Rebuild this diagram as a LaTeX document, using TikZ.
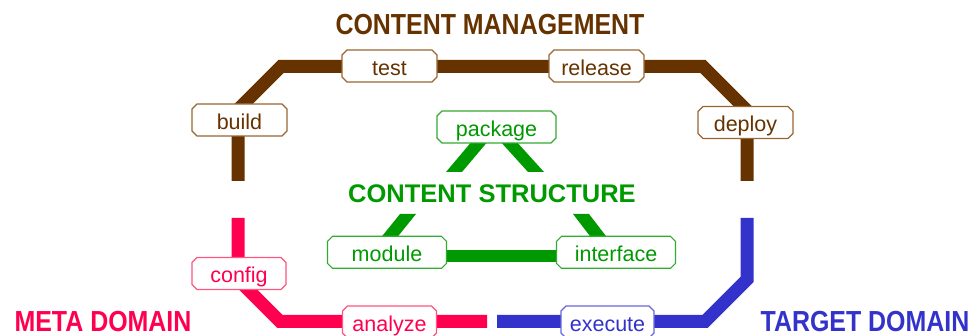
\documentclass[tikz,border=0pt]{standalone}
\usepackage{fontspec}
\setmainfont{Liberation Sans}
\usetikzlibrary{shapes.misc,backgrounds}
\definecolor{cmbrown}{HTML}{663300}
\definecolor{cmbrownl}{HTML}{996633}
\definecolor{csgreen}{HTML}{009900}
\definecolor{csgreenl}{HTML}{33AA33}
\definecolor{mdpink}{HTML}{FF0050}
\definecolor{mdpinkl}{HTML}{FF5580}
\definecolor{tdblue}{HTML}{3333CC}
\definecolor{tdbluel}{HTML}{6666DD}
\tikzset{
  lbl/.style={chamfered rectangle, chamfered rectangle xsep=2.5pt,
    chamfered rectangle ysep=2.5pt, fill=white, line width=1.1pt,
    inner sep=0pt, minimum width=95pt, minimum height=32pt,
    text height=19pt, text depth=0pt, font=\fontsize{21.5}{21.5}\selectfont},
  brbox/.style={lbl, draw=cmbrownl, text=cmbrown},
  grbox/.style={lbl, draw=csgreenl, text=csgreen, minimum width=119pt},
  pkbox/.style={lbl, draw=mdpinkl, text=mdpink, minimum width=94pt},
  blbox/.style={lbl, draw=tdbluel, text=tdblue, minimum width=93pt},
  ttl/.style={inner sep=0pt, anchor=base, font=\fontsize{29}{29}\selectfont\bfseries},
  sttl/.style={inner sep=0pt, anchor=base, font=\fontsize{25.5}{25.5}\selectfont\bfseries},
  track/.style={line width=13pt, line cap=butt, line join=miter},
}
\begin{document}
\begin{tikzpicture}[x=1pt,y=-1pt]
\useasboundingbox (0,0) rectangle (974,336);
% titles
\node[ttl, text=cmbrown] (cmt) at (490,35) {\scalebox{0.86}[1]{CONTENT MANAGEMENT}};
\node[sttl, text=csgreen] (cst) at (492,203) {CONTENT STRUCTURE};
\node[ttl, text=mdpink] (mdt) at (103,331.5) {\scalebox{0.86}[1]{META DOMAIN}};
\node[ttl, text=tdblue] (tdt) at (865,331.5) {\scalebox{0.86}[1]{TARGET DOMAIN}};
% boxes
\node[brbox] (build) at (239.5,120) {build};
\node[brbox] (test) at (389.5,66) {test};
\node[brbox] (release) at (596.5,66) {release};
\node[brbox] (deploy) at (745.5,122.5) {deploy};
\node[grbox] (package) at (496.5,127) {package};
\node[grbox] (module) at (387,252.3) {module};
\node[grbox] (interface) at (616,252.3) {interface};
\node[pkbox] (config) at (239,273.5) {config};
\node[pkbox] (analyze) at (389.5,322) {analyze};
\node[blbox] (execute) at (607.5,322) {execute};
% track ends
\coordinate (bA) at (238,181);
\coordinate (bB) at (747,181);
\coordinate (pA) at (238,218);
\coordinate (pB) at (487,321.5);
\coordinate (uA) at (497,321.5);
\coordinate (uB) at (747,218);
\begin{pgfonlayer}{background}
\draw[track, cmbrown] (bA) -- (238,109.5) -- (281,66.5) -- (703,66.5) -- (747,110.5) -- (bB);
\draw[track, mdpink] (pA) -- (238,279.5) -- (280,321.5) -- (pB);
\draw[track, tdblue] (uA) -- (705,321.5) -- (747,279.5) -- (uB);
\draw[csgreen, line width=12pt] ([yshift=-4pt]module.center) -- ([yshift=-4pt]interface.center);
\fill[csgreen] (473,140) -- (489,140) -- (462,172) -- (446,172) -- cycle;
\fill[csgreen] (499,140) -- (515,140) -- (544,172) -- (528,172) -- cycle;
\fill[csgreen] (400,214) -- (416,214) -- (395,240) -- (379,240) -- cycle;
\fill[csgreen] (573,214) -- (589,214) -- (609,240) -- (593,240) -- cycle;
\end{pgfonlayer}
\end{tikzpicture}
\end{document}
